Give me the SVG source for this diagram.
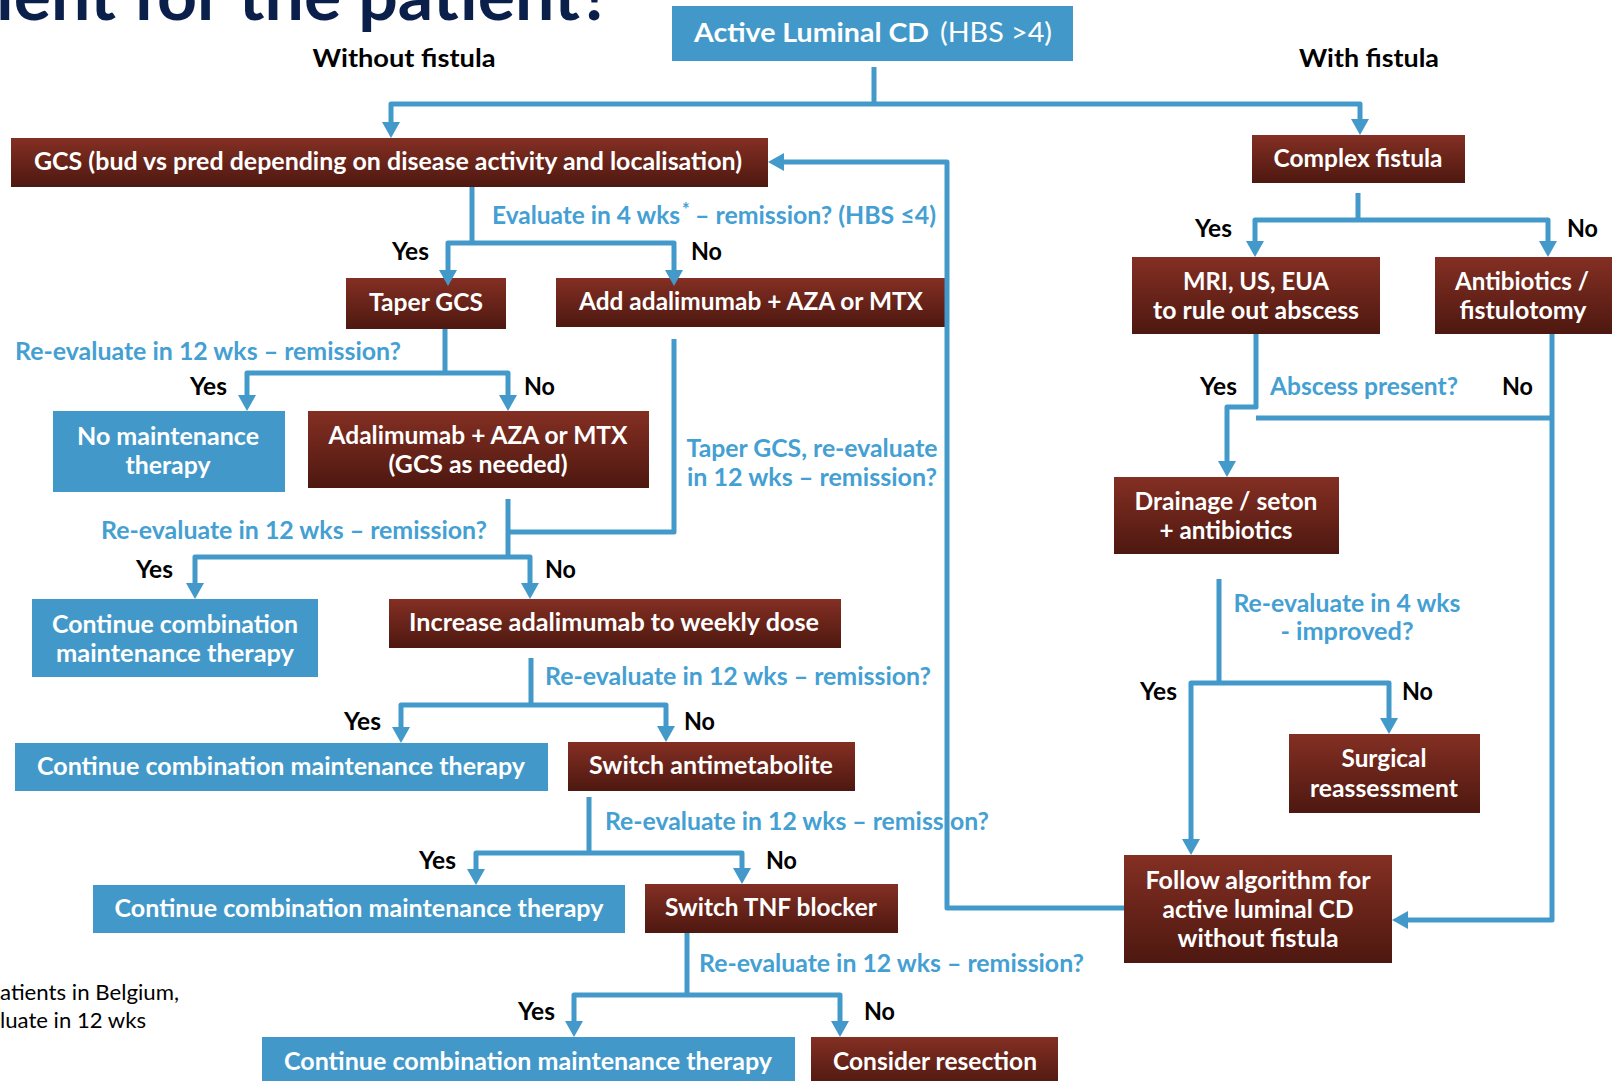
<svg xmlns="http://www.w3.org/2000/svg" width="1612" height="1081" viewBox="0 0 1612 1081">
<defs>
<linearGradient id="rg" x1="0" y1="0" x2="0" y2="1">
<stop offset="0" stop-color="#842f23"/>
<stop offset="1" stop-color="#4d1810"/>
</linearGradient>
<marker id="ah" viewBox="0 0 16 18" markerWidth="16" markerHeight="18" refX="1" refY="9" orient="auto" markerUnits="userSpaceOnUse">
<path d="M0,0 L16,9 L0,18 z" fill="#4399c9"/>
</marker>
<style>
.rb{fill:url(#rg)}
.bb{fill:#4299c9}
text{font-family:Lato,'Open Sans','DejaVu Sans',sans-serif;font-weight:700;font-size:24px}
.t{fill:#fff;text-anchor:middle}
.lb{fill:#44a0d3}
.lm{fill:#44a0d3;text-anchor:middle}
.yn{fill:#000}
.c{fill:none;stroke:#4399c9;stroke-width:5;stroke-linejoin:round}
.a{marker-end:url(#ah)}
</style>
</defs>
<rect width="1612" height="1081" fill="#fff"/>

<g id="title">
<text x="-4" y="20" style="font-size:68px;fill:#0b1f4b" textLength="616" lengthAdjust="spacingAndGlyphs">ient for the patient?</text>
</g>
<g id="headers">
<text x="404" y="67" class="yn" style="text-anchor:middle" textLength="183" lengthAdjust="spacingAndGlyphs">Without fistula</text>
<text x="1369" y="67" class="yn" style="text-anchor:middle" textLength="140" lengthAdjust="spacingAndGlyphs">With fistula</text>
</g>

<g id="n-active">
<rect class="bb" x="672" y="6" width="401" height="55"/>
<text x="694" y="42" style="fill:#fff;font-size:27px" textLength="235" lengthAdjust="spacingAndGlyphs">Active Luminal CD</text>
<text x="940" y="42" style="fill:#fff;font-size:27px;font-weight:400" textLength="112" lengthAdjust="spacingAndGlyphs">(HBS &gt;4)</text>
</g>
<g id="n-gcs">
<rect class="rb" x="11" y="138" width="757" height="49"/>
<text class="t" x="388" y="170" textLength="708" lengthAdjust="spacingAndGlyphs">GCS (bud vs pred depending on disease activity and localisation)</text>
</g>
<g id="n-complex">
<rect class="rb" x="1252" y="135" width="213" height="48"/>
<text class="t" x="1358" y="167" textLength="169" lengthAdjust="spacingAndGlyphs">Complex fistula</text>
</g>
<g id="n-taper">
<rect class="rb" x="346" y="278" width="160" height="51"/>
<text class="t" x="426" y="311" textLength="114" lengthAdjust="spacingAndGlyphs">Taper GCS</text>
</g>
<g id="n-add">
<rect class="rb" x="556" y="278" width="389" height="49"/>
<text class="t" x="751" y="310" textLength="344" lengthAdjust="spacingAndGlyphs">Add adalimumab + AZA or MTX</text>
</g>
<g id="n-nomaint">
<rect class="bb" x="53" y="411" width="232" height="81"/>
<text class="t" x="168" y="445" textLength="182" lengthAdjust="spacingAndGlyphs">No maintenance</text>
<text class="t" x="168" y="474" textLength="85" lengthAdjust="spacingAndGlyphs">therapy</text>
</g>
<g id="n-adaaza">
<rect class="rb" x="308" y="411" width="341" height="77"/>
<text class="t" x="478" y="444" textLength="299" lengthAdjust="spacingAndGlyphs">Adalimumab + AZA or MTX</text>
<text class="t" x="478" y="473" textLength="179" lengthAdjust="spacingAndGlyphs">(GCS as needed)</text>
</g>
<g id="n-cont1">
<rect class="bb" x="32" y="599" width="286" height="78"/>
<text class="t" x="175" y="633" textLength="246" lengthAdjust="spacingAndGlyphs">Continue combination</text>
<text class="t" x="175" y="662" textLength="238" lengthAdjust="spacingAndGlyphs">maintenance therapy</text>
</g>
<g id="n-increase">
<rect class="rb" x="389" y="599" width="452" height="49"/>
<text class="t" x="614" y="631" textLength="410" lengthAdjust="spacingAndGlyphs">Increase adalimumab to weekly dose</text>
</g>
<g id="n-cont2">
<rect class="bb" x="15" y="743" width="533" height="48"/>
<text class="t" x="281" y="775" textLength="488" lengthAdjust="spacingAndGlyphs">Continue combination maintenance therapy</text>
</g>
<g id="n-switchanti">
<rect class="rb" x="568" y="742" width="287" height="49"/>
<text class="t" x="711" y="774" textLength="244" lengthAdjust="spacingAndGlyphs">Switch antimetabolite</text>
</g>
<g id="n-cont3">
<rect class="bb" x="93" y="885" width="532" height="48"/>
<text class="t" x="359" y="917" textLength="489" lengthAdjust="spacingAndGlyphs">Continue combination maintenance therapy</text>
</g>
<g id="n-switchtnf">
<rect class="rb" x="645" y="884" width="253" height="49"/>
<text class="t" x="771" y="916" textLength="212" lengthAdjust="spacingAndGlyphs">Switch TNF blocker</text>
</g>
<g id="n-cont4">
<rect class="bb" x="262" y="1037" width="533" height="50"/>
<text class="t" x="528" y="1070" textLength="488" lengthAdjust="spacingAndGlyphs">Continue combination maintenance therapy</text>
</g>
<g id="n-consider">
<rect class="rb" x="811" y="1037" width="247" height="50"/>
<text class="t" x="935" y="1070" textLength="204" lengthAdjust="spacingAndGlyphs">Consider resection</text>
</g>
<g id="n-mri">
<rect class="rb" x="1132" y="257" width="248" height="77"/>
<text class="t" x="1256" y="290" textLength="146" lengthAdjust="spacingAndGlyphs">MRI, US, EUA</text>
<text class="t" x="1256" y="319" textLength="206" lengthAdjust="spacingAndGlyphs">to rule out abscess</text>
</g>
<g id="n-antibiotics">
<rect class="rb" x="1435" y="257" width="190" height="77"/>
<text class="t" x="1522" y="290" textLength="134" lengthAdjust="spacingAndGlyphs">Antibiotics /</text>
<text class="t" x="1523" y="319" textLength="127" lengthAdjust="spacingAndGlyphs">fistulotomy</text>
</g>
<g id="n-drainage">
<rect class="rb" x="1114" y="477" width="225" height="77"/>
<text class="t" x="1226" y="510" textLength="183" lengthAdjust="spacingAndGlyphs">Drainage / seton</text>
<text class="t" x="1226" y="539" textLength="133" lengthAdjust="spacingAndGlyphs">+ antibiotics</text>
</g>
<g id="n-surgical">
<rect class="rb" x="1289" y="734" width="191" height="79"/>
<text class="t" x="1384" y="767" textLength="85" lengthAdjust="spacingAndGlyphs">Surgical</text>
<text class="t" x="1384" y="797" textLength="148" lengthAdjust="spacingAndGlyphs">reassessment</text>
</g>
<g id="n-follow">
<rect class="rb" x="1124" y="855" width="268" height="108"/>
<text class="t" x="1258" y="889" textLength="225" lengthAdjust="spacingAndGlyphs">Follow algorithm for</text>
<text class="t" x="1258" y="918" textLength="191" lengthAdjust="spacingAndGlyphs">active luminal CD</text>
<text class="t" x="1258" y="947" textLength="161" lengthAdjust="spacingAndGlyphs">without fistula</text>
</g>

<g id="labels">
<text class="lb" x="492" y="224" textLength="188" lengthAdjust="spacingAndGlyphs">Evaluate in 4 wks</text>
<text class="lb" x="682" y="216" style="font-size:18px">*</text>
<text class="lb" x="695" y="224" textLength="241" lengthAdjust="spacingAndGlyphs">– remission? (HBS ≤4)</text>
<text class="lb" x="15" y="360" textLength="386" lengthAdjust="spacingAndGlyphs">Re-evaluate in 12 wks – remission?</text>
<text class="lm" x="812" y="457" textLength="251" lengthAdjust="spacingAndGlyphs">Taper GCS, re-evaluate</text>
<text class="lm" x="812" y="486" textLength="250" lengthAdjust="spacingAndGlyphs">in 12 wks – remission?</text>
<text class="lb" x="101" y="539" textLength="386" lengthAdjust="spacingAndGlyphs">Re-evaluate in 12 wks – remission?</text>
<text class="lb" x="545" y="685" textLength="386" lengthAdjust="spacingAndGlyphs">Re-evaluate in 12 wks – remission?</text>
<text class="lb" x="605" y="830" textLength="384" lengthAdjust="spacingAndGlyphs">Re-evaluate in 12 wks – remission?</text>
<text class="lb" x="699" y="972" textLength="385" lengthAdjust="spacingAndGlyphs">Re-evaluate in 12 wks – remission?</text>
<text class="lb" x="1270" y="395" textLength="188" lengthAdjust="spacingAndGlyphs">Abscess present?</text>
<text class="lm" x="1347" y="612" textLength="227" lengthAdjust="spacingAndGlyphs">Re-evaluate in 4 wks</text>
<text class="lm" x="1347" y="640" textLength="133" lengthAdjust="spacingAndGlyphs">- improved?</text>
</g>

<g id="yesno">
<text class="yn" x="392" y="260" textLength="37" lengthAdjust="spacingAndGlyphs">Yes</text>
<text class="yn" x="691" y="260" textLength="31" lengthAdjust="spacingAndGlyphs">No</text>
<text class="yn" x="190" y="395" textLength="37" lengthAdjust="spacingAndGlyphs">Yes</text>
<text class="yn" x="524" y="395" textLength="31" lengthAdjust="spacingAndGlyphs">No</text>
<text class="yn" x="136" y="578" textLength="37" lengthAdjust="spacingAndGlyphs">Yes</text>
<text class="yn" x="545" y="578" textLength="31" lengthAdjust="spacingAndGlyphs">No</text>
<text class="yn" x="344" y="730" textLength="37" lengthAdjust="spacingAndGlyphs">Yes</text>
<text class="yn" x="684" y="730" textLength="31" lengthAdjust="spacingAndGlyphs">No</text>
<text class="yn" x="419" y="869" textLength="37" lengthAdjust="spacingAndGlyphs">Yes</text>
<text class="yn" x="766" y="869" textLength="31" lengthAdjust="spacingAndGlyphs">No</text>
<text class="yn" x="518" y="1020" textLength="37" lengthAdjust="spacingAndGlyphs">Yes</text>
<text class="yn" x="864" y="1020" textLength="31" lengthAdjust="spacingAndGlyphs">No</text>
<text class="yn" x="1195" y="237" textLength="37" lengthAdjust="spacingAndGlyphs">Yes</text>
<text class="yn" x="1567" y="237" textLength="31" lengthAdjust="spacingAndGlyphs">No</text>
<text class="yn" x="1200" y="395" textLength="37" lengthAdjust="spacingAndGlyphs">Yes</text>
<text class="yn" x="1502" y="395" textLength="31" lengthAdjust="spacingAndGlyphs">No</text>
<text class="yn" x="1140" y="700" textLength="37" lengthAdjust="spacingAndGlyphs">Yes</text>
<text class="yn" x="1402" y="700" textLength="31" lengthAdjust="spacingAndGlyphs">No</text>
</g>

<g id="footnote">
<text x="0" y="1000" style="font-weight:400;font-size:21px;fill:#000" textLength="179" lengthAdjust="spacingAndGlyphs">atients in Belgium,</text>
<text x="0" y="1028" style="font-weight:400;font-size:21px;fill:#000" textLength="146" lengthAdjust="spacingAndGlyphs">luate in 12 wks</text>
</g>

<g id="connectors">
<path class="c" d="M874,67 V104"/>
<path class="c a" d="M874,104 H391 V123"/>
<path class="c a" d="M874,104 H1360 V120"/>
<path class="c a" d="M1124,908 H947 V162 H783"/>
<path class="c" d="M472,187 V243"/>
<path class="c a" d="M472,243 H448 V271"/>
<path class="c a" d="M472,243 H674 V271"/>
<path class="c" d="M445,329 V373"/>
<path class="c a" d="M445,373 H247 V396"/>
<path class="c a" d="M445,373 H508 V396"/>
<path class="c" d="M674,339 V532 H508"/>
<path class="c" d="M508,499 V557"/>
<path class="c a" d="M508,557 H195 V584"/>
<path class="c a" d="M508,557 H530 V584"/>
<path class="c" d="M531,658 V705"/>
<path class="c a" d="M531,705 H401 V728"/>
<path class="c a" d="M531,705 H666 V727"/>
<path class="c" d="M589,797 V853"/>
<path class="c a" d="M589,853 H476 V870"/>
<path class="c a" d="M589,853 H742 V869"/>
<path class="c" d="M687,933 V995"/>
<path class="c a" d="M687,995 H574 V1022"/>
<path class="c a" d="M687,995 H840 V1022"/>
<path class="c" d="M1358,193 V220"/>
<path class="c a" d="M1358,220 H1255 V242"/>
<path class="c a" d="M1358,220 H1548 V242"/>
<path class="c a" d="M1256,334 V407 H1227 V462"/>
<path class="c" d="M1256,418 H1552"/>
<path class="c a" d="M1552,334 V920 H1407"/>
<path class="c" d="M1219,579 V683"/>
<path class="c a" d="M1219,683 H1191 V840"/>
<path class="c a" d="M1219,683 H1389 V719"/>
</g>
</svg>
